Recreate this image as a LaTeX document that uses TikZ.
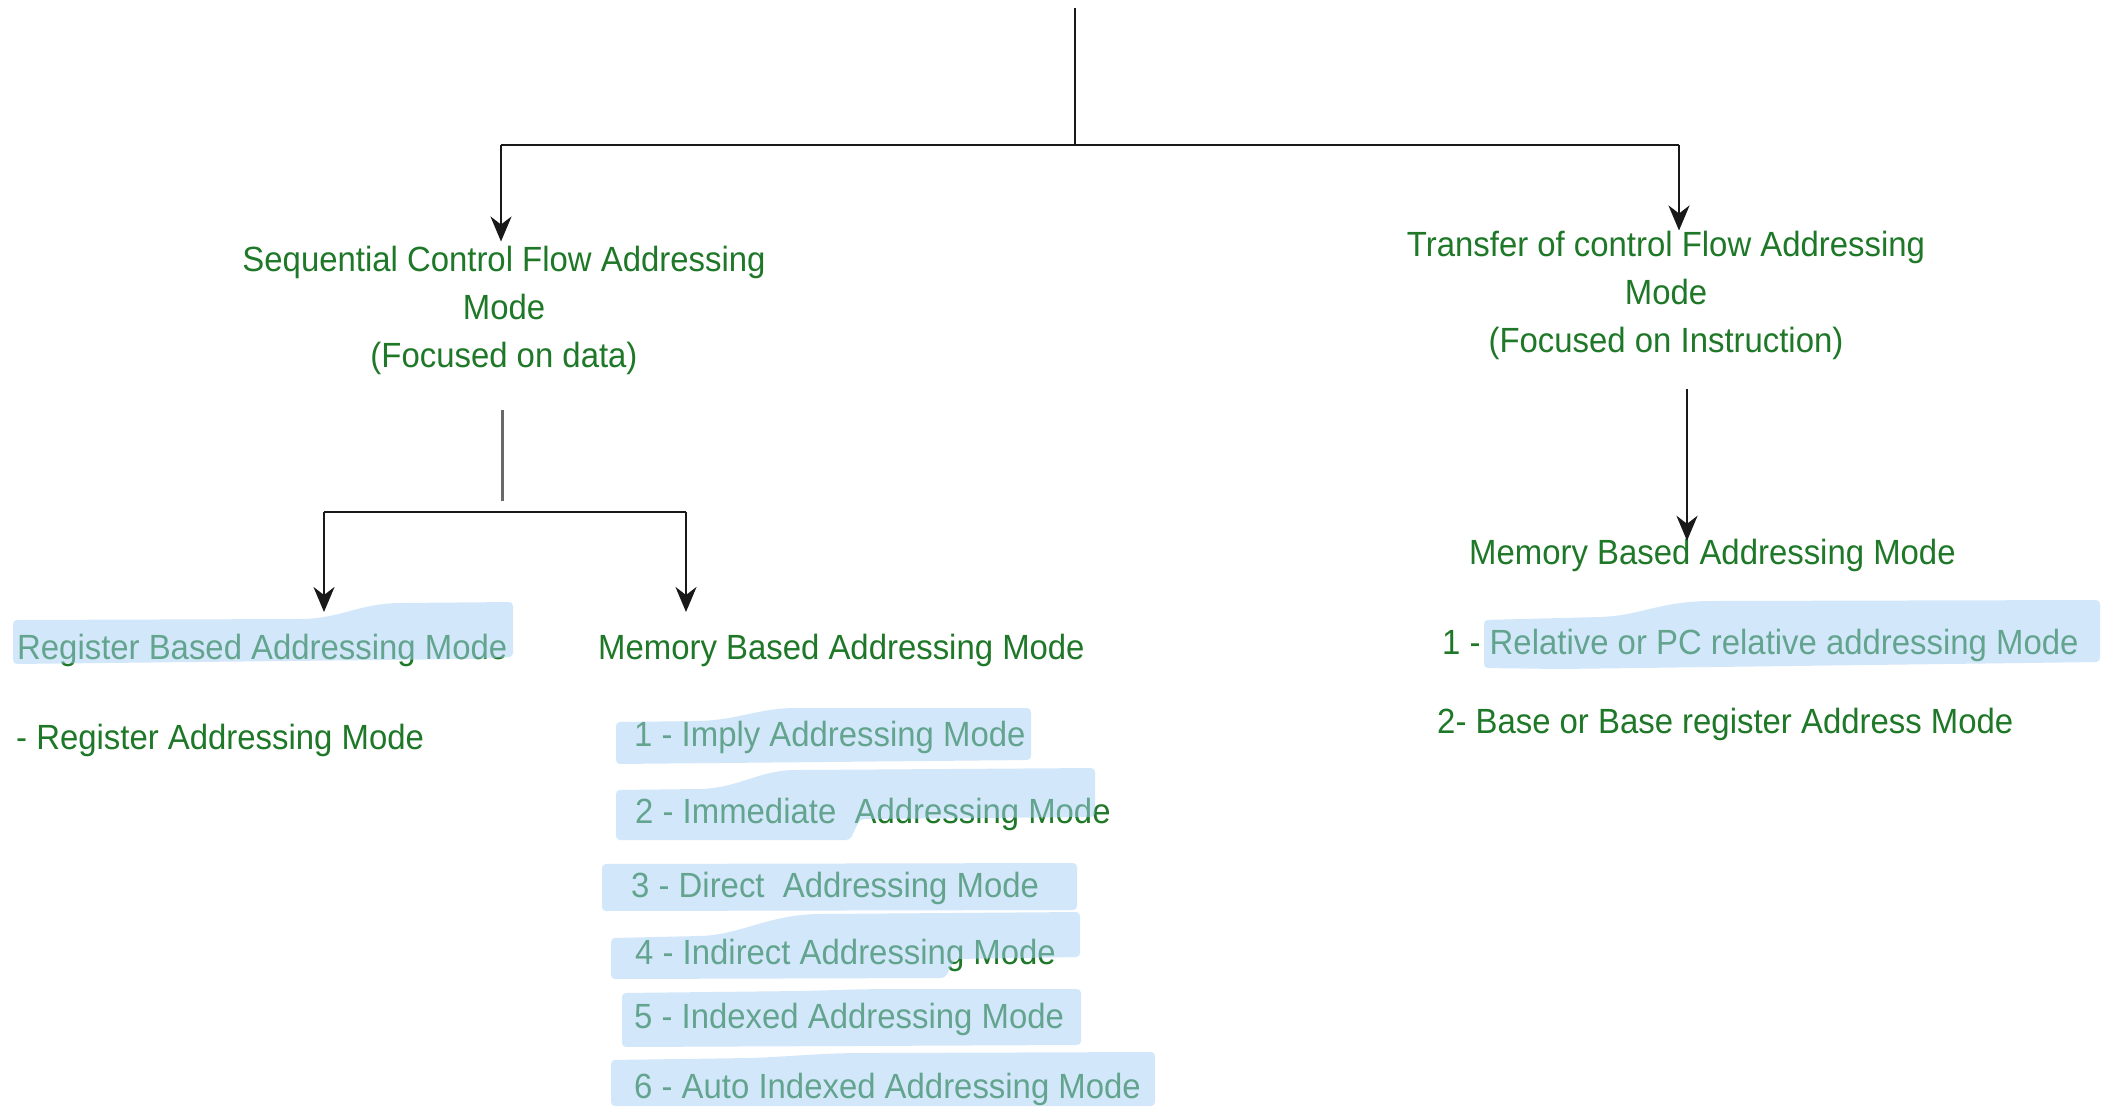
\documentclass[tikz,border=0pt]{standalone}
\usepackage{fontspec}
\setmainfont{Liberation Sans}[FakeStretch=0.94]
\usetikzlibrary{arrows.meta}
\definecolor{tgreen}{RGB}{30,120,40}
\definecolor{hlblue}{RGB}{169,209,247}
\definecolor{linecol}{RGB}{25,25,25}
\definecolor{graycol}{RGB}{105,105,105}
\tikzset{
  lbl/.style={font=\fontsize{35}{48}\selectfont, text=tgreen, inner sep=0pt, anchor=west, text height=25pt, text depth=7pt},
  head/.style={font=\fontsize{35}{48}\selectfont, text=tgreen, inner sep=2pt, align=center},
  conn/.style={draw=linecol, line width=2.6pt},
  arr/.style={conn, -{Stealth[length=25pt, width=21pt, inset=8pt]}},
  grayconn/.style={draw=graycol, line width=3pt},
  hl/.style={fill=hlblue, opacity=0.5, draw=none, rounded corners=4pt}
}
\begin{document}
\begin{tikzpicture}[x=1pt, y=-1pt]
\fill[white] (0,0) rectangle (2106,1106);
\useasboundingbox (0,0) rectangle (2106,1106);

% ---------- text nodes ----------
\node[head] (seq) at (504,310) {Sequential Control Flow Addressing\\Mode\\(Focused on data)};
\node[head] (tr) at (1666,295) {Transfer of control Flow Addressing\\Mode\\(Focused on Instruction)};

\node[lbl] (reg) at (17,650) {Register Based Addressing Mode};
\node[lbl] (mem) at (598,650) {Memory Based Addressing Mode};
\node[lbl] (regi) at (16,740) {- Register Addressing Mode};

\node[lbl] (m1) at (634,737) {1 - Imply Addressing Mode};
\node[lbl] (m2) at (635,814) {2 - Immediate~ Addressing Mode};
\node[lbl] (m3) at (631,888) {3 - Direct~ Addressing Mode};
\node[lbl] (m4) at (635,955) {4 - Indirect Addressing Mode};
\node[lbl] (m5) at (634,1019) {5 - Indexed Addressing Mode};
\node[lbl] (m6) at (634,1089) {6 - Auto Indexed Addressing Mode};

\node[lbl] (memr) at (1469,555) {Memory Based Addressing Mode};
\node[lbl] (r1) at (1442,645) {1 - Relative or PC relative addressing Mode};
\node[lbl] (r2) at (1437,724) {2- Base or Base register Address Mode};

% ---------- connectors ----------
\coordinate (top) at (1075,8);
\coordinate (j1) at (1075,145);
\coordinate (jl) at (501,145);
\coordinate (jr) at (1679,145);
\draw[conn] (top) -- (j1);
\draw[conn] (jl) -- (jr);
\draw[arr] (jl) -- ([yshift=2pt]jl |- seq.north);
\draw[arr] (jr) -- ([yshift=-2pt]jr |- tr.north);

\coordinate (g1) at (502,410);
\coordinate (g2) at (502,501);
\draw[grayconn] (g1) -- (g2);
\coordinate (sl) at (324,512);
\coordinate (sr) at (686,512);
\coordinate (slt) at (324,612);
\coordinate (srt) at (686,612);
\draw[conn] (sl) -- (sr);
\draw[arr] (sl) -- (slt);
\draw[arr] (sr) -- (srt);

\coordinate (rt) at (1687,389);
\draw[arr] (rt) -- ([yshift=-2pt]rt |- memr.north);

% ---------- highlighter strokes ----------
\path[hl] (13,620) -- (300,619) .. controls (340,618) and (360,604) .. (400,603) -- (513,602) -- (513,657) -- (470,659) -- (13,664) -- cycle;
\path[hl] (616,722) -- (700,721) .. controls (740,719) and (760,708) .. (800,708) -- (1031,708) -- (1031,760) -- (616,764) -- cycle;
\path[hl] (616,790) -- (700,789) .. controls (740,787) and (760,770) .. (800,770) -- (1095,768) -- (1095,817) -- (860,819) -- (850,840) -- (616,840) -- cycle;
\path[hl] (602,864) -- (1077,863) -- (1077,910) -- (602,911) -- cycle;
\path[hl] (611,938) -- (700,936) .. controls (740,934) and (770,915) .. (820,914) -- (1080,912) -- (1080,957) -- (955,959) -- (945,978) -- (611,979) -- cycle;
\path[hl] (622,993) -- (800,991) .. controls (840,990) and (860,989) .. (900,989) -- (1081,989) -- (1081,1045) -- (622,1047) -- cycle;
\path[hl] (611,1060) -- (750,1058) .. controls (800,1056) and (820,1053) .. (870,1053) -- (1155,1052) -- (1155,1106) -- (611,1106) -- cycle;
\path[hl] (1484,620) -- (1600,617) .. controls (1640,615) and (1660,602) .. (1710,601) -- (2100,600) -- (2100,662) -- (1560,669) -- (1484,668) -- cycle;
\end{tikzpicture}
\end{document}
